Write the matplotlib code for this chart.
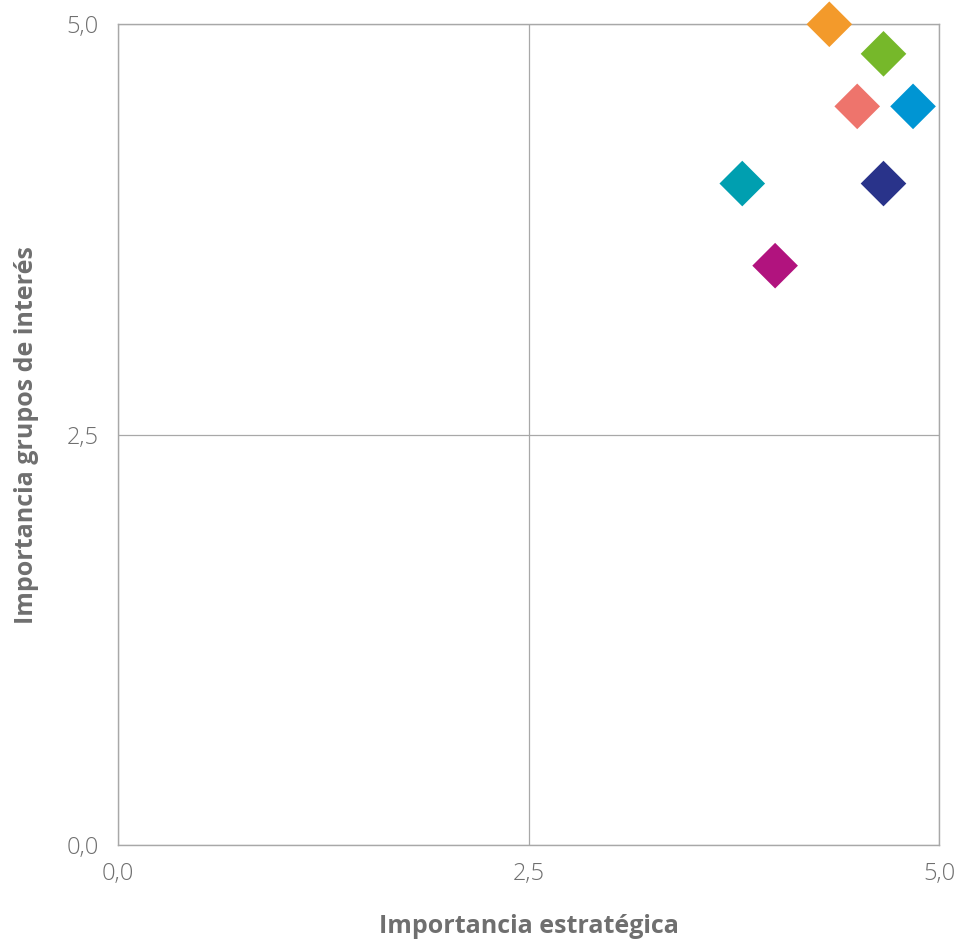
import matplotlib
import matplotlib.pyplot as plt

matplotlib.rcParams["font.family"] = ["Open Sans", "DejaVu Sans"]
plt.switch_backend("agg")

# Importancia estratégica (x) vs importancia para grupos de interés (y)
strategic = [4.33, 4.66, 4.50, 4.84, 3.80, 4.66, 4.00]
stakeholder = [5.00, 4.82, 4.50, 4.50, 4.03, 4.03, 3.53]
colors = ["#f39a2b", "#76b82a", "#ee746c", "#0095d3", "#009fb0", "#29338a", "#b1137e"]

tick_values = [0.0, 2.5, 5.0]
tick_labels = ["0,0", "2,5", "5,0"]

TEXT_GRAY = "#6f6f6f"
LINE_GRAY = "#a8a8a8"


def main():
    fig = plt.figure(figsize=(9.64, 9.44), dpi=100)
    ax = fig.add_axes([0.1227, 0.1045, 0.8517, 0.8698])

    ax.set_xlim(0, 5)
    ax.set_ylim(0, 5)
    ax.set_xticks(tick_values)
    ax.set_xticklabels(tick_labels)
    ax.set_yticks(tick_values)
    ax.set_yticklabels(tick_labels)
    ax.tick_params(length=0, labelsize=17, labelcolor=TEXT_GRAY)
    ax.tick_params(axis="x", pad=12)
    ax.tick_params(axis="y", pad=14)
    for lab in ax.get_xticklabels() + ax.get_yticklabels():
        lab.set_fontweight("light")

    ax.grid(True, color=LINE_GRAY, linewidth=0.9)
    ax.set_axisbelow(True)
    for side in ax.spines.values():
        side.set_color(LINE_GRAY)
        side.set_linewidth(1.0)

    ax.set_xlabel("Importancia estratégica", fontsize=18, fontweight="bold",
                  color=TEXT_GRAY, labelpad=20)
    ax.set_ylabel("Importancia grupos de interés", fontsize=18, fontweight="bold",
                  color=TEXT_GRAY, labelpad=20)

    ax.scatter(strategic, stakeholder, marker="D", s=540, c=colors,
               linewidths=0, clip_on=False, zorder=5)

    fig.savefig("out.png", dpi=100, facecolor="white")
    plt.close(fig)


if __name__ == "__main__":
    main()
